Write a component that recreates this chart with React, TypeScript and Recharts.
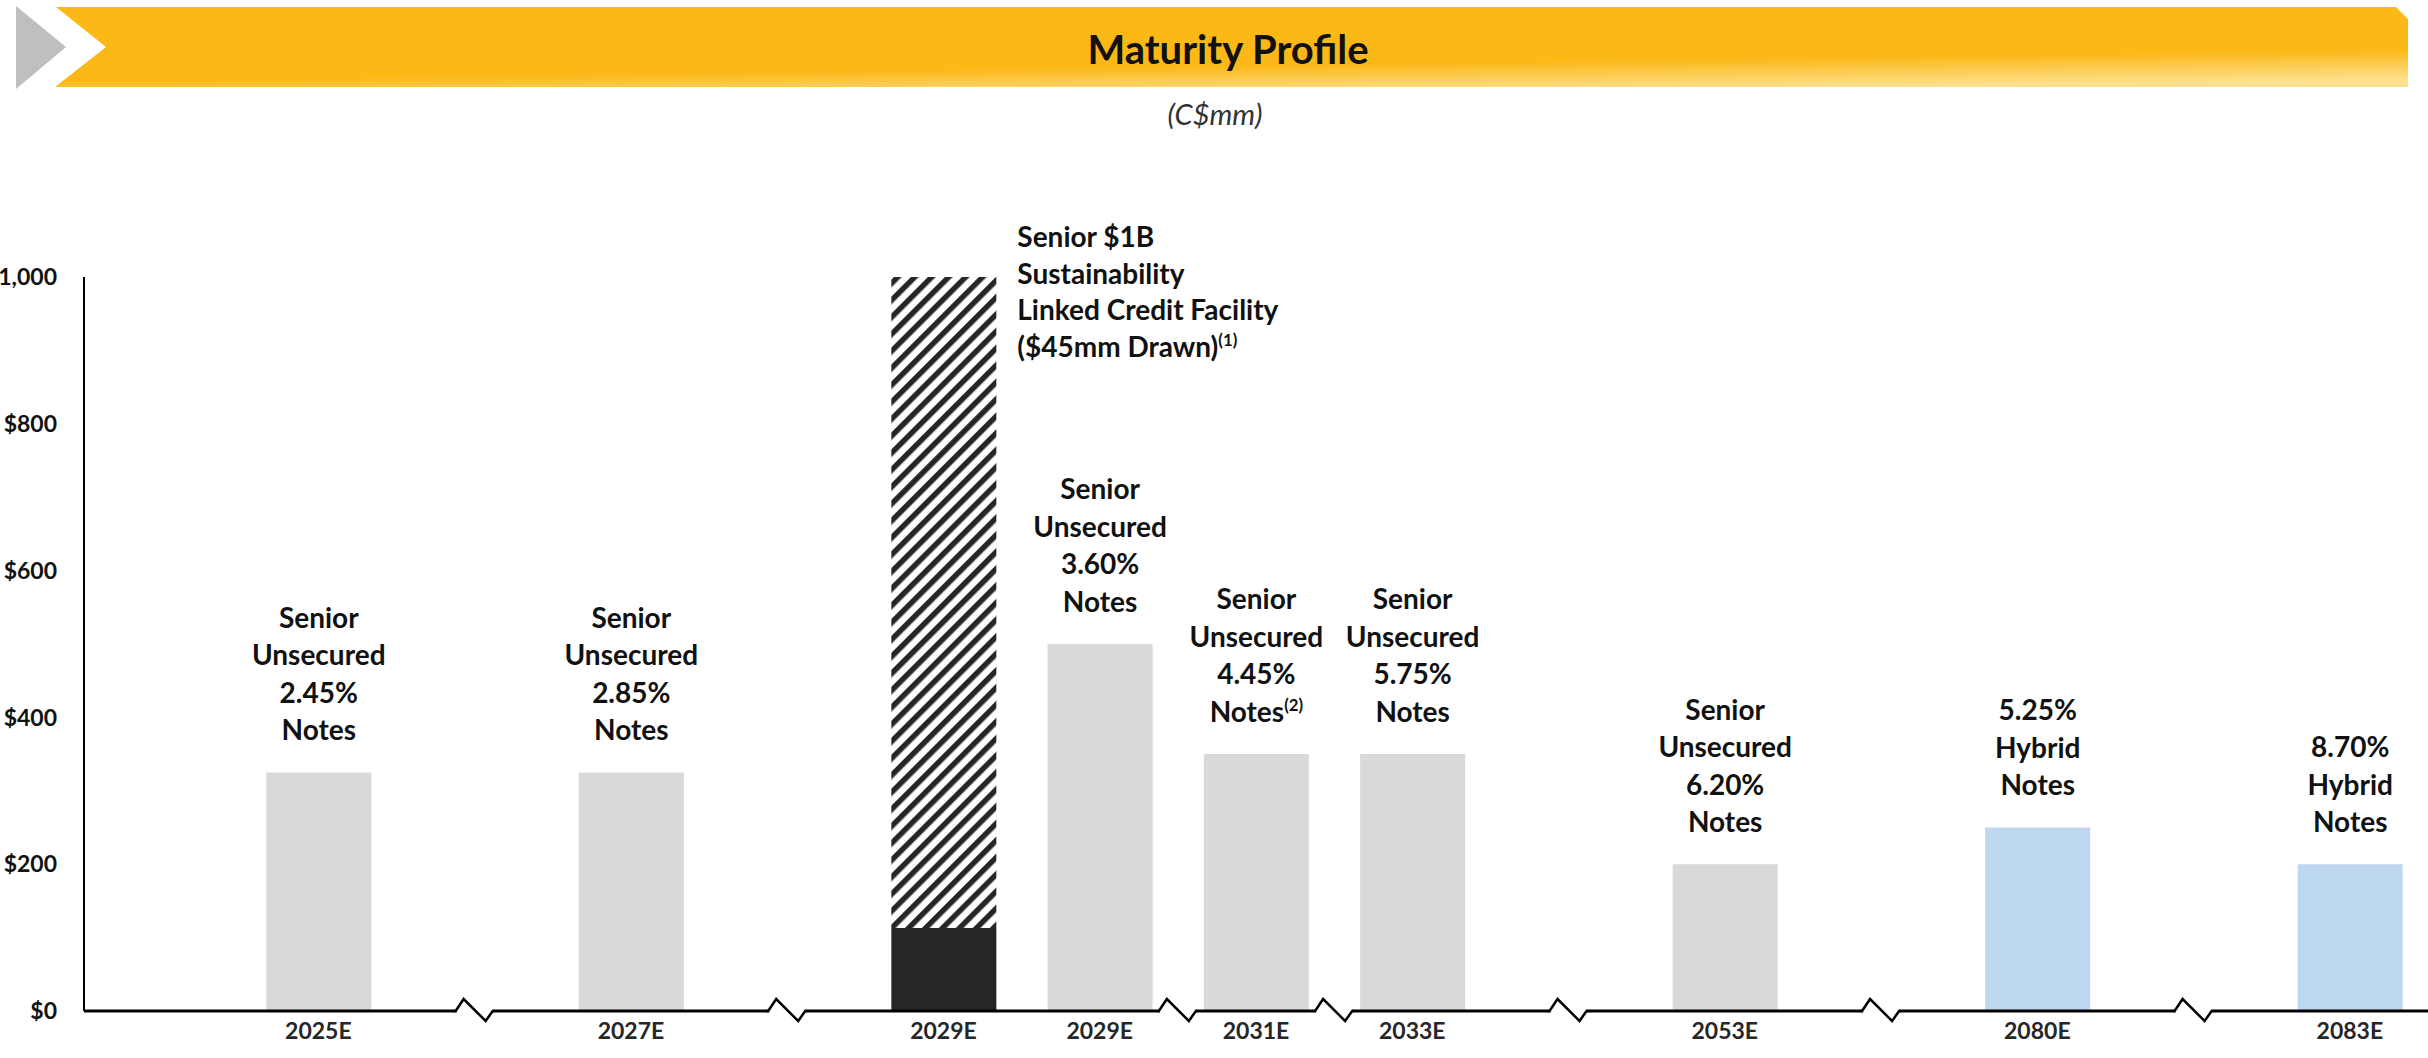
import React from 'react'
import { BarChart, Bar, XAxis, YAxis, LabelList } from 'recharts'

// slot layout of the category axis: blank slots hold the axis breaks
const categories = ['', '2025E', '', '2027E', '', '2029E', '2029E', '2031E', '2033E', '', '2053E', '', '2080E', '', '2083E']
const drawnValues = [null, null, null, null, null, 113, null, null, null, null, null, null, null, null, null]
const undrawnValues = [null, null, null, null, null, 887, null, null, null, null, null, null, null, null, null]
const seniorValues = [null, 325, null, 325, null, null, 500, 350, 350, null, 200, null, null, null, null]
const hybridValues = [null, null, null, null, null, null, null, null, null, null, null, null, 250, null, 200]
const noteLines: string[][] = [
  [], ['Senior', 'Unsecured', '2.45%', 'Notes'], [], ['Senior', 'Unsecured', '2.85%', 'Notes'], [], [],
  ['Senior', 'Unsecured', '3.60%', 'Notes'], ['Senior', 'Unsecured', '4.45%', 'Notes^(2)'],
  ['Senior', 'Unsecured', '5.75%', 'Notes'], [], ['Senior', 'Unsecured', '6.20%', 'Notes'], [],
  ['5.25%', 'Hybrid', 'Notes'], [], ['8.70%', 'Hybrid', 'Notes'],
]
const facilityLines = ['Senior $1B', 'Sustainability', 'Linked Credit Facility', '($45mm Drawn)^(1)']
const axisBreaks = ['', '', 'mid', '', 'mid', '', '', 'edges', '', 'mid', '', 'mid', '', 'mid', '']
const yTicks = [0, 200, 400, 600, 800, 1000]

const W = 2428
const H = 1058
const Y_AXIS_W = 84
const SLOT = (W - Y_AXIS_W) / categories.length
const FONT = "Lato, 'Open Sans', sans-serif"
const INK = '#111'

const rows = categories.map((label, i) => ({
  slot: i,
  label,
  drawn: drawnValues[i],
  undrawn: undrawnValues[i],
  senior: seniorValues[i],
  hybrid: hybridValues[i],
  seniorNote: seniorValues[i] != null ? noteLines[i].join('|') : undefined,
  hybridNote: hybridValues[i] != null ? noteLines[i].join('|') : undefined,
  facilityNote: undrawnValues[i] != null ? facilityLines.join('|') : undefined,
}))

const LineText = ({ x, y, line, anchor, size }: any) => {
  const [main, sup] = line.split('^')
  return (
    <text x={x} y={y} dy="0.35em" textAnchor={anchor} fontFamily={FONT} fontWeight={700} fontSize={size} fill={INK}>
      {main}
      {sup && <tspan fontSize={size * 0.6} dy={-size * 0.4}>{sup}</tspan>}
    </text>
  )
}

const box = (props: any) => {
  const vb = props.viewBox || {}
  return {
    x: Number(props.x ?? vb.x),
    y: Number(props.y ?? vb.y),
    width: Number(props.width ?? vb.width),
  }
}

const NoteLabel = (props: any) => {
  if (!props.value) return null
  const { x, y, width } = box(props)
  const lines = String(props.value).split('|')
  const cx = x + width / 2
  const last = y - 42
  return (
    <g>
      {lines.map((l, i) => (
        <LineText key={i} x={cx} y={last - (lines.length - 1 - i) * 37.5} line={l} anchor="middle" size={28} />
      ))}
    </g>
  )
}

const FacilityLabel = (props: any) => {
  if (!props.value) return null
  const { x, y, width } = box(props)
  const lines = String(props.value).split('|')
  return (
    <g>
      {lines.map((l, i) => (
        <LineText key={i} x={x + width + 21} y={y - 40 + i * 36.7} line={l} anchor="start" size={28} />
      ))}
    </g>
  )
}

const AxisBreak = ({ x, y }: { x: number; y: number }) => (
  <g>
    <rect x={x - 18} y={y - 3} width={36} height={6} fill="#fff" />
    <polyline
      points={`${x - 21},${y} ${x - 19},${y} ${x - 11},${y - 12} ${x + 11},${y + 10} ${x + 18},${y} ${x + 20},${y}`}
      fill="none" stroke="#000" strokeWidth={2.5}
    />
  </g>
)

const XTick = (props: any) => {
  const { x, y, payload } = props
  const i = Number(payload.value)
  const kind = axisBreaks[i]
  const xs = kind === 'mid' ? [x] : kind === 'edges' ? [x - SLOT / 2, x + SLOT / 2] : []
  return (
    <g>
      {xs.map((bx) => <AxisBreak key={bx} x={bx} y={y} />)}
      {categories[i] && (
        <text x={x} y={y + 20} dy="0.35em" textAnchor="middle" fontFamily={FONT} fontWeight={700} fontSize={23} fill="#262626">
          {categories[i]}
        </text>
      )}
    </g>
  )
}

const Header = () => (
  <svg width={W} height={140} style={{ position: 'absolute', left: 0, top: 0 }}>
    <defs>
      <linearGradient id="band" x1="0.35" y1="0" x2="0.75" y2="1">
        <stop offset="0" stopColor="#FBB817" />
        <stop offset="0.68" stopColor="#FBB817" />
        <stop offset="1" stopColor="#FDE08C" />
      </linearGradient>
    </defs>
    <polygon points="16,6 66,47 16,89" fill="#BFBFBF" />
    <polygon points="56,7 2396,7 2408,19 2408,87 55,87 106,47" fill="url(#band)" />
    <text x={1228} y={50} dy="0.35em" textAnchor="middle" fontFamily={FONT} fontWeight={700} fontSize={40} fill={INK}>
      Maturity Profile
    </text>
    <text x={1215} y={115} dy="0.35em" textAnchor="middle" fontFamily={FONT} fontStyle="italic" fontSize={29} fill="#333">
      (C$mm)
    </text>
  </svg>
)

export default function App() {
  return (
    <div style={{ position: 'absolute', left: 0, top: 0, width: W, height: H, background: '#fff', overflow: 'hidden' }}>
      <Header />
      <div style={{ position: 'absolute', left: 0, top: 0 }}>
        <BarChart width={W} height={H} data={rows} margin={{ top: 277, right: 0, bottom: 0, left: 0 }} barSize={105}>
          <defs>
            <pattern id="hatch" patternUnits="userSpaceOnUse" width={12} height={12} patternTransform="rotate(45)">
              <rect width={12} height={12} fill="#fff" />
              <rect width={5.5} height={12} fill="#262626" />
            </pattern>
          </defs>
          <XAxis
            dataKey="slot"
            type="category"
            height={47}
            interval={0}
            tickLine={false}
            tickSize={0}
            tickMargin={0}
            axisLine={{ stroke: '#000', strokeWidth: 3 }}
            tick={(p: any) => <XTick {...p} />}
          />
          <YAxis
            width={Y_AXIS_W}
            domain={[0, 1000]}
            ticks={yTicks}
            interval={0}
            tickLine={false}
            tickSize={0}
            tickMargin={27}
            axisLine={{ stroke: '#000', strokeWidth: 2 }}
            tickFormatter={(v: number) => '$' + v.toLocaleString('en-US')}
            tick={{ fill: INK, fontFamily: FONT, fontWeight: 700, fontSize: 23 }}
          />
          <Bar dataKey="drawn" stackId="a" fill="#262626" isAnimationActive={false} />
          <Bar dataKey="undrawn" stackId="a" fill="url(#hatch)" isAnimationActive={false}>
            <LabelList dataKey="facilityNote" content={(p: any) => <FacilityLabel {...p} />} />
          </Bar>
          <Bar dataKey="senior" stackId="a" fill="#D9D9D9" isAnimationActive={false}>
            <LabelList dataKey="seniorNote" content={(p: any) => <NoteLabel {...p} />} />
          </Bar>
          <Bar dataKey="hybrid" stackId="a" fill="#BDD7EE" isAnimationActive={false}>
            <LabelList dataKey="hybridNote" content={(p: any) => <NoteLabel {...p} />} />
          </Bar>
        </BarChart>
      </div>
    </div>
  )
}
